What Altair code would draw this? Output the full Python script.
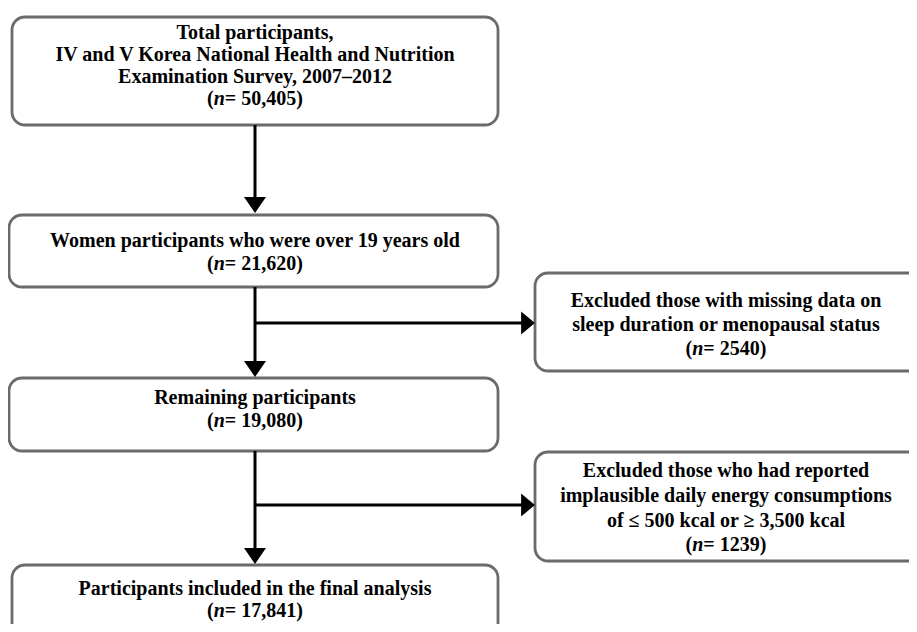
import altair as alt
import pandas as pd

# ---- content ----
box_lines = [
    ["Total participants,", "IV and V Korea National Health and Nutrition", "Examination Survey, 2007\u20132012"],
    ["Women participants  who were over 19 years old"],
    ["Excluded  those with missing data on", "sleep duration  or menopausal status"],
    ["Remaining participants"],
    ["Excluded  those who had reported", "implausible  daily  energy consumptions", "of \u2264 500 kcal or \u2265 3,500 kcal"],
    ["Participants  included  in the final analysis"],
]
n_values = ["50,405", "21,620", "2540", "19,080", "1239", "17,841"]

# ---- layout (page pixel units) ----
box_x0 = [12, 9, 535, 9, 535, 12]
box_x1 = [498, 498, 935, 498, 935, 498]
box_y0 = [17, 215, 273, 378, 452, 565]
box_y1 = [125, 287, 371, 451, 561, 660]
box_clip = [False, False, True, False, True, True]
text_cx = [255, 255, 726, 255, 726, 255]
line_y = [[33, 55, 77, 99], [241, 264], [301, 325, 349], [398, 421], [471, 496, 521, 545], [589, 611]]

seg_x0 = [255, 255, 255, 255, 255]
seg_y0 = [125, 287, 323, 451, 505]
seg_x1 = [255, 255, 522, 255, 522]
seg_y1 = [200, 364, 323, 551, 505]
head_x = [255, 255, 528, 255, 528]
head_y = [205, 369, 323, 556, 505]
head_dir = ["down", "down", "right", "down", "right"]

FS = 20
FONT = "Liberation Serif"
W = {"(": 333, ")": 333, "=": 570, " ": 250, ",": 250}
def tw(s):
    return sum(W.get(c, 500) for c in s) * FS / 1000.0

W_N = 556 * FS / 1000.0

rows_box = []
for i in range(len(box_x0)):
    rows_box.append(dict(x=box_x0[i], x2=box_x1[i], y=box_y0[i], y2=box_y1[i], cl=box_clip[i]))
df_box = pd.DataFrame(rows_box)

rows_txt, rows_par, rows_n, rows_rest = [], [], [], []
for i, lines in enumerate(box_lines):
    for j, t in enumerate(lines):
        rows_txt.append(dict(x=text_cx[i], y=line_y[i][j], t=t))
    rest = "= " + n_values[i] + ")"
    total = tw("(") + W_N + tw(rest)
    left = text_cx[i] - total / 2
    yy = line_y[i][len(lines)]
    rows_par.append(dict(x=left, y=yy, t="("))
    rows_n.append(dict(x=left + tw("("), y=yy, t="n"))
    rows_rest.append(dict(x=left + tw("(") + W_N, y=yy, t=rest))

df_txt = pd.DataFrame(rows_txt)
df_par = pd.DataFrame(rows_par)
df_n = pd.DataFrame(rows_n)
df_rest = pd.DataFrame(rows_rest)
df_seg = pd.DataFrame(dict(x=seg_x0, y=seg_y0, x2=seg_x1, y2=seg_y1))
df_head = pd.DataFrame(dict(x=head_x, y=head_y, d=head_dir))

XS = alt.Scale(domain=[8, 909], nice=False, zero=False)
YS = alt.Scale(domain=[8, 624], nice=False, zero=False, reverse=True)

def X(f="x"):
    return alt.X(f + ":Q", scale=XS, axis=None)

def Y(f="y"):
    return alt.Y(f + ":Q", scale=YS, axis=None)

base_box = dict(fill="white", stroke="#6b6b6b", strokeWidth=2.8, cornerRadius=13)

df_box_nc = df_box[~df_box["cl"]].drop(columns="cl")
df_box_c = df_box[df_box["cl"]].drop(columns="cl")

boxes_noclip = alt.Chart(df_box_nc).mark_rect(**base_box).encode(
    x=X(), x2="x2:Q", y=Y(), y2="y2:Q")
boxes_clip = alt.Chart(df_box_c).mark_rect(clip=True, **base_box).encode(
    x=X(), x2="x2:Q", y=Y(), y2="y2:Q")

segs = alt.Chart(df_seg).mark_rule(color="black", strokeWidth=3).encode(
    x=X(), x2="x2:Q", y=Y(), y2="y2:Q")

heads_down = alt.Chart(df_head[df_head["d"] == "down"]).mark_point(
    shape="M-1,-0.73L1,-0.73L0,0.73Z", size=484, filled=True, color="black",
    opacity=1, strokeWidth=0).encode(x=X(), y=Y())
heads_right = alt.Chart(df_head[df_head["d"] == "right"]).mark_point(
    shape="M-0.6,-1L0.6,0L-0.6,1Z", size=529, filled=True, color="black",
    opacity=1, strokeWidth=0).encode(x=X(), y=Y())

txt_common = dict(font=FONT, fontSize=FS, fontWeight="bold", color="black", baseline="middle")
txt = alt.Chart(df_txt).mark_text(align="center", **txt_common).encode(x=X(), y=Y(), text="t:N")
par = alt.Chart(df_par).mark_text(align="left", **txt_common).encode(x=X(), y=Y(), text="t:N")
nit = alt.Chart(df_n).mark_text(align="left", fontStyle="italic", **txt_common).encode(x=X(), y=Y(), text="t:N")
rest = alt.Chart(df_rest).mark_text(align="left", **txt_common).encode(x=X(), y=Y(), text="t:N")

chart = alt.layer(boxes_noclip, boxes_clip, segs, heads_down, heads_right, txt, par, nit, rest).properties(
    width=901, height=616, padding=0, background="white",
    autosize=alt.AutoSizeParams(type="none"),
).configure_view(stroke=None)

chart.save("out.html", embed_options={"renderer": "svg", "actions": False})
